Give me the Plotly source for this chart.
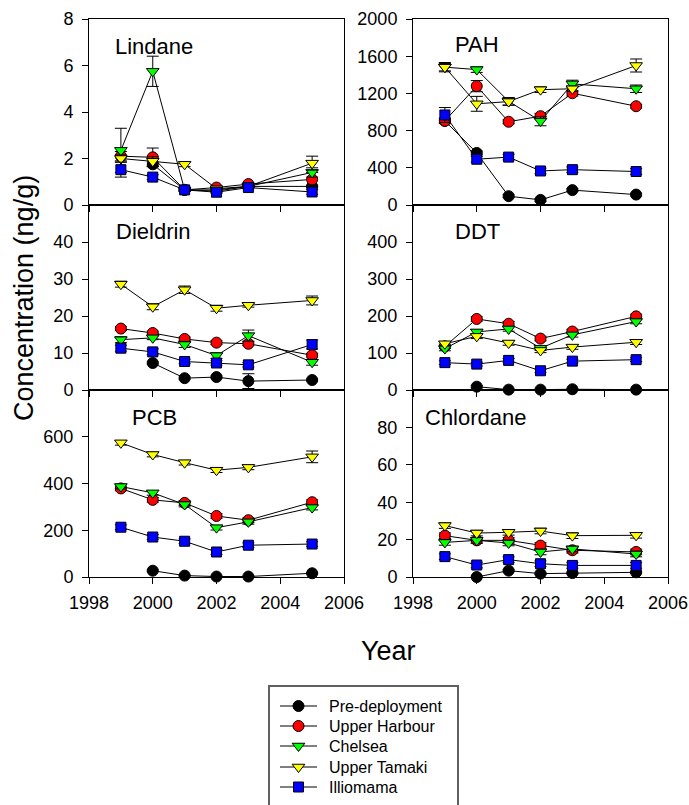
import plotly.graph_objects as go

W, H = 689, 805

years = [1999, 2000, 2001, 2002, 2003, 2005]
years_pre = [2000, 2001, 2002, 2003, 2005]

series_names = ["Pre-deployment", "Upper Harbour", "Chelsea", "Upper Tamaki", "Illiomama"]

# ---- Lindane ----
lindane_pre = [1.75, 0.65, 0.6, 0.8, 0.8]
lindane_uh = [2.1, 2.05, 0.65, 0.75, 0.9, 1.1]
lindane_ch = [2.35, 5.75, 0.65, 0.65, 0.8, 1.4]
lindane_ut = [2.0, 1.88, 1.75, 0.7, 0.8, 1.8]
lindane_il = [1.52, 1.2, 0.65, 0.55, 0.75, 0.56]
lindane_pre_err = [0.1, 0.05, 0.05, 0.05, 0.05]
lindane_uh_err = [0.2, 0.4, 0.05, 0.05, 0.05, 0.3]
lindane_ch_err = [0.95, 0.65, 0.05, 0.05, 0.05, 0.2]
lindane_ut_err = [0.15, 0.2, 0.1, 0.05, 0.05, 0.3]
lindane_il_err = [0.32, 0.1, 0.05, 0.05, 0.05, 0.1]

# ---- PAH ----
pah_years_pre = [1999, 2000, 2001, 2002, 2003, 2005]
pah_pre = [905, 560, 95, 55, 160, 112]
pah_uh = [905, 1278, 895, 955, 1202, 1062]
pah_ch = [1482, 1456, 1115, 902, 1302, 1250]
pah_ut = [1482, 1088, 1112, 1240, 1250, 1500]
pah_il = [968, 492, 515, 366, 380, 360]
pah_pre_err = [20, 20, 15, 15, 15, 15]
pah_uh_err = [30, 60, 20, 30, 30, 20]
pah_ch_err = [40, 30, 40, 50, 40, 40]
pah_ut_err = [50, 80, 40, 30, 30, 70]
pah_il_err = [80, 30, 30, 30, 30, 30]

# ---- Dieldrin ----
dieldrin_pre = [7.3, 3.2, 3.5, 2.4, 2.7]
dieldrin_uh = [16.6, 15.4, 13.8, 12.8, 12.5, 9.4]
dieldrin_ch = [13.6, 14.1, 12.3, 9.3, 14.7, 7.5]
dieldrin_ut = [28.6, 22.5, 27.1, 22.1, 22.9, 24.2]
dieldrin_il = [11.3, 10.3, 7.7, 7.3, 6.8, 12.3]
dieldrin_pre_err = [0.3, 0.3, 0.3, 2.0, 0.3]
dieldrin_uh_err = [0.5, 0.5, 0.5, 0.5, 0.5, 0.5]
dieldrin_ch_err = [0.8, 0.5, 0.8, 0.8, 1.5, 0.8]
dieldrin_ut_err = [0.8, 0.8, 1.0, 0.8, 0.5, 1.2]
dieldrin_il_err = [0.8, 0.8, 0.6, 0.6, 0.6, 1.2]

# ---- DDT ----
ddt_pre = [9, 1, 1, 2, 1]
ddt_uh = [118, 192, 179, 139, 158, 199]
ddt_ch = [112, 157, 165, 113, 149, 185]
ddt_ut = [125, 145, 127, 107, 116, 129]
ddt_il = [74, 70, 80, 52, 78, 82]
ddt_pre_err = [3, 1, 1, 1, 1]
ddt_uh_err = [6, 6, 6, 6, 6, 6]
ddt_ch_err = [6, 6, 6, 6, 6, 6]
ddt_ut_err = [6, 6, 6, 6, 6, 6]
ddt_il_err = [5, 5, 5, 5, 5, 5]

# ---- PCB ----
pcb_pre = [27, 6, 2, 2, 16]
pcb_uh = [379, 330, 317, 261, 243, 320]
pcb_ch = [387, 360, 310, 211, 236, 297]
pcb_ut = [574, 524, 489, 457, 469, 514]
pcb_il = [213, 171, 153, 107, 136, 141]
pcb_pre_err = [4, 2, 2, 2, 3]
pcb_uh_err = [10, 10, 10, 10, 10, 10]
pcb_ch_err = [10, 10, 10, 10, 10, 10]
pcb_ut_err = [10, 10, 10, 10, 10, 25]
pcb_il_err = [10, 10, 10, 10, 10, 10]

# ---- Chlordane ----
chl_pre = [0.0, 3.4, 1.8, 2.1, 2.5]
chl_uh = [22.1, 19.6, 19.6, 16.8, 14.3, 13.4]
chl_ch = [18.5, 19.6, 18.2, 13.4, 15.0, 12.3]
chl_ut = [27.5, 23.5, 23.9, 24.6, 22.1, 22.3]
chl_il = [10.9, 6.4, 9.3, 7.1, 6.2, 6.2]
chl_pre_err = [0.5, 0.5, 0.5, 0.5, 0.5]
chl_uh_err = [1.5, 1.5, 1.5, 1.5, 1.5, 1.5]
chl_ch_err = [1.5, 1.5, 1.5, 1.5, 1.5, 1.5]
chl_ut_err = [1.5, 1.5, 1.5, 1.5, 1.5, 1.5]
chl_il_err = [1.5, 1.5, 1.5, 1.5, 1.5, 1.5]

compounds = ["Lindane", "PAH", "Dieldrin", "DDT", "PCB", "Chlordane"]

y_ranges = [[0, 8], [0, 2000], [0, 50], [0, 500], [0, 800], [0, 100]]
y_ticks = [[0, 2, 4, 6, 8], [0, 400, 800, 1200, 1600, 2000],
           [0, 10, 20, 30, 40], [0, 100, 200, 300, 400],
           [0, 200, 400, 600], [0, 20, 40, 60, 80]]
x_ticks = [1998, 2000, 2002, 2004, 2006]

data = {
    "Lindane": ([years_pre, years, years, years, years],
                [lindane_pre, lindane_uh, lindane_ch, lindane_ut, lindane_il],
                [lindane_pre_err, lindane_uh_err, lindane_ch_err, lindane_ut_err, lindane_il_err]),
    "PAH": ([pah_years_pre, years, years, years, years],
            [pah_pre, pah_uh, pah_ch, pah_ut, pah_il],
            [pah_pre_err, pah_uh_err, pah_ch_err, pah_ut_err, pah_il_err]),
    "Dieldrin": ([years_pre, years, years, years, years],
                 [dieldrin_pre, dieldrin_uh, dieldrin_ch, dieldrin_ut, dieldrin_il],
                 [dieldrin_pre_err, dieldrin_uh_err, dieldrin_ch_err, dieldrin_ut_err, dieldrin_il_err]),
    "DDT": ([years_pre, years, years, years, years],
            [ddt_pre, ddt_uh, ddt_ch, ddt_ut, ddt_il],
            [ddt_pre_err, ddt_uh_err, ddt_ch_err, ddt_ut_err, ddt_il_err]),
    "PCB": ([years_pre, years, years, years, years],
            [pcb_pre, pcb_uh, pcb_ch, pcb_ut, pcb_il],
            [pcb_pre_err, pcb_uh_err, pcb_ch_err, pcb_ut_err, pcb_il_err]),
    "Chlordane": ([years_pre, years, years, years, years],
                  [chl_pre, chl_uh, chl_ch, chl_ut, chl_il],
                  [chl_pre_err, chl_uh_err, chl_ch_err, chl_ut_err, chl_il_err]),
}

colors = ["#000000", "#FF0000", "#00FF00", "#FFFF00", "#0000FF"]
symbols = ["circle", "circle", "triangle-down", "triangle-down", "square"]
sizes = [11, 11, 11, 11, 10]

FONT = "Liberation Sans, Arial, sans-serif"


def px_x(p):
    return p / W


def px_y(p):
    return 1 - p / H


col_px = [(89, 344), (413, 668)]
row_px = [(19, 205), (205, 390), (390, 577)]

fig = go.Figure()
layout = {}
for i, comp in enumerate(compounds):
    r, c = divmod(i, 2)
    idx = i + 1
    xa = "x" if idx == 1 else f"x{idx}"
    ya = "y" if idx == 1 else f"y{idx}"
    xs, ys, es = data[comp]
    for s in range(5):
        fig.add_trace(go.Scatter(
            x=xs[s], y=ys[s], xaxis=xa, yaxis=ya,
            mode="lines+markers", name=series_names[s], showlegend=False,
            line=dict(color="black", width=1),
            marker=dict(symbol=symbols[s], size=sizes[s], color=colors[s],
                        line=dict(color="black", width=1)),
            error_y=dict(type="data", array=es[s], visible=True,
                         color="black", thickness=1, width=6),
            cliponaxis=False,
        ))
    x0, x1 = col_px[c]
    y0, y1 = row_px[r]
    sfx = str(idx) if idx > 1 else ""
    layout[f"xaxis{sfx}"] = dict(
        domain=[px_x(x0), px_x(x1)], range=[1998, 2006], anchor=ya,
        tickvals=x_ticks, showticklabels=(r == 2), automargin=False,
        ticks="outside", ticklen=6, tickcolor="black", tickwidth=1,
        showline=True, linecolor="black", linewidth=1, mirror=True,
        showgrid=False, zeroline=False, ticklabelstandoff=3,
        tickfont=dict(family=FONT, size=18, color="black"))
    layout[f"yaxis{sfx}"] = dict(
        domain=[px_y(y1), px_y(y0)], range=y_ranges[i], anchor=xa,
        tickvals=y_ticks[i], ticks="outside", ticklen=6, tickcolor="black",
        tickwidth=1, showline=True, linecolor="black", linewidth=1, mirror=True,
        showgrid=False, zeroline=False, ticklabelstandoff=5, automargin=False,
        tickfont=dict(family=FONT, size=18, color="black"))

# ---- manual legend drawn in a hidden pixel-unit axis ----
LEG_X0, LEG_X1, LEG_Y0, LEG_Y1 = 269, 458, 690, 802
leg_rows = [706, 726, 746, 767, 787]
leg_line = (280, 317)
leg_text_x = 327
layout["xaxis7"] = dict(domain=[px_x(LEG_X0), px_x(LEG_X1)], range=[LEG_X0, LEG_X1],
                        visible=False, anchor="y7", fixedrange=True)
layout["yaxis7"] = dict(domain=[px_y(LEG_Y1), px_y(LEG_Y0)], range=[LEG_Y1, LEG_Y0],
                        visible=False, anchor="x7", fixedrange=True)
for s in range(5):
    ry = leg_rows[s]
    fig.add_trace(go.Scatter(x=list(leg_line), y=[ry, ry], xaxis="x7", yaxis="y7",
                             mode="lines", line=dict(color="black", width=1),
                             showlegend=False, hoverinfo="skip", cliponaxis=False))
    fig.add_trace(go.Scatter(x=[(leg_line[0] + leg_line[1]) / 2], y=[ry], xaxis="x7", yaxis="y7",
                             mode="markers", showlegend=False, hoverinfo="skip",
                             marker=dict(symbol=symbols[s], size=sizes[s], color=colors[s],
                                         line=dict(color="black", width=1)),
                             cliponaxis=False))

title_pos = [(113, 46), (453, 45), (114, 232), (453, 232), (130, 417), (423, 417)]
annotations = []
for comp, (tx, ty) in zip(compounds, title_pos):
    annotations.append(dict(text=comp, x=px_x(tx), y=px_y(ty), xref="paper", yref="paper",
                            xanchor="left", yanchor="middle", showarrow=False,
                            font=dict(family=FONT, size=22, color="black")))
for s in range(5):
    annotations.append(dict(text=series_names[s], x=px_x(leg_text_x), y=px_y(leg_rows[s]),
                            xref="paper", yref="paper", xanchor="left", yanchor="middle",
                            showarrow=False, font=dict(family=FONT, size=16, color="black")))
annotations.append(dict(text="Concentration (ng/g)", x=px_x(24), y=px_y(298), xref="paper",
                        yref="paper", textangle=-90, showarrow=False,
                        xanchor="center", yanchor="middle",
                        font=dict(family=FONT, size=27, color="black")))
annotations.append(dict(text="Year", x=px_x(388), y=px_y(651), xref="paper", yref="paper",
                        showarrow=False, xanchor="center", yanchor="middle",
                        font=dict(family=FONT, size=27, color="black")))

shapes = [dict(type="rect", xref="paper", yref="paper",
               x0=px_x(269), x1=px_x(458), y0=px_y(810), y1=px_y(686),
               line=dict(color="#606060", width=2), fillcolor="rgba(0,0,0,0)")]

fig.update_layout(
    width=W, height=H, margin=dict(l=0, r=0, t=0, b=0, autoexpand=False),
    paper_bgcolor="white", plot_bgcolor="white", showlegend=False,
    annotations=annotations, shapes=shapes,
    **layout,
)

fig.write_html("out.html")
